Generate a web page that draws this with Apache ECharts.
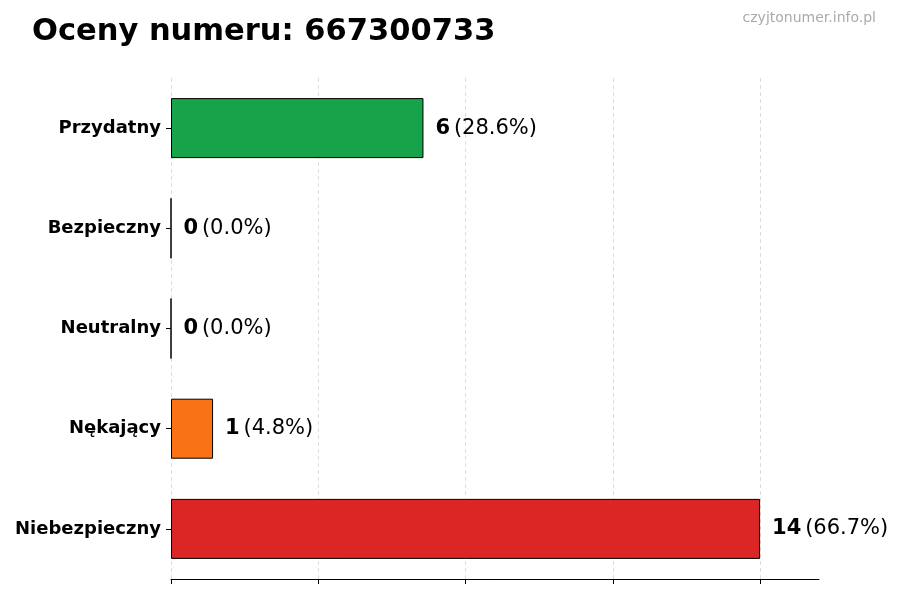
<!DOCTYPE html>
<html>
<head>
<meta charset="utf-8">
<script src="https://cdn.jsdelivr.net/npm/echarts@6/dist/echarts.min.js"></script>
<style>
html, body { margin: 0; padding: 0; background: #fff; }
#chart { width: 900px; height: 600px; }
</style>
</head>
<body>
<div id="chart"></div>
<script>
// dane wykresu
var categories = ['Przydatny', 'Bezpieczny', 'Neutralny', 'Nękający', 'Niebezpieczny'];
var counts = [6, 0, 0, 1, 14];
var percents = ['28.6%', '0.0%', '0.0%', '4.8%', '66.7%'];
var barColors = ['#16a34a', '#16a34a', '#9ca3af', '#f97316', '#dc2626'];
var tickValues = [0, 3.5, 7, 10.5, 14];

var chart = echarts.init(document.getElementById('chart'));

var seriesData = [];
for (var i = 0; i < counts.length; i++) {
	seriesData.push({
		value: counts[i],
		itemStyle: { color: barColors[i] }
	});
}

var option = {
	animation: false,
	textStyle: { fontFamily: 'DejaVu Sans' },
	title: [{
		text: 'Oceny numeru: 667300733',
		left: 27,
		top: 12,
		textStyle: { fontSize: 30.5, fontWeight: 'bold', color: '#000', fontFamily: 'DejaVu Sans' }
	}, {
		text: 'czyjtonumer.info.pl',
		right: 19,
		top: 6,
		textStyle: { fontSize: 14, fontWeight: 'normal', color: '#aaaaaa', fontFamily: 'DejaVu Sans' }
	}],
	grid: { left: 171, right: 81, top: 78, height: 501 },
	xAxis: {
		type: 'value',
		min: 0,
		max: 15.4,
		interval: 3.5,
		axisLine: { show: true, lineStyle: { color: '#000', width: 1 } },
		axisTick: { show: true, length: 5, customValues: tickValues, lineStyle: { color: '#000' } },
		axisLabel: { show: false },
		splitLine: { show: true, lineStyle: { color: '#dddddd', type: [4, 3], width: 1 } }
	},
	yAxis: {
		type: 'category',
		inverse: true,
		data: categories,
		axisLine: { show: false },
		axisTick: { show: true, alignWithLabel: true, length: 5, lineStyle: { color: '#000' } },
		axisLabel: { fontSize: 18, fontWeight: 'bold', color: '#000', margin: 10, fontFamily: 'DejaVu Sans' }
	},
	series: [{
		type: 'bar',
		data: seriesData,
		barWidth: 60,
		itemStyle: { borderColor: '#000', borderWidth: 1 },
		label: {
			show: true,
			position: 'right',
			distance: 12,
			formatter: function (p) {
				return '{b|' + p.value + '} {n|(' + percents[p.dataIndex] + ')}';
			},
			rich: {
				b: { fontSize: 21, fontWeight: 'bold', color: '#000', fontFamily: 'DejaVu Sans' },
				n: { fontSize: 21, color: '#000', fontFamily: 'DejaVu Sans' }
			}
		}
	}]
};

chart.setOption(option);
</script>
</body>
</html>
